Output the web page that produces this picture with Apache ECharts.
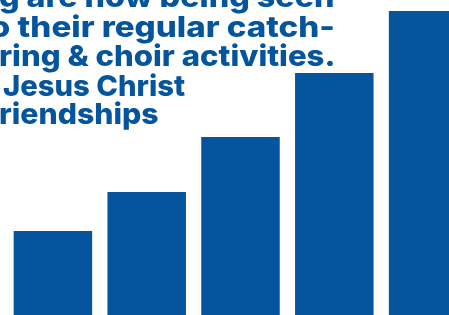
<!DOCTYPE html>
<html><head><meta charset="utf-8">
<script src="https://cdn.jsdelivr.net/npm/echarts@6/dist/echarts.min.js"></script>
<style>html,body{margin:0;padding:0;background:#fff}#c{width:449px;height:315px}</style>
</head><body><div id="c"></div>
<script>
const categories = ['A', 'B', 'C', 'D', 'E'];
const values = [84, 123, 178, 242, 304];
const textLines = ['g are now being seen', 'o their regular catch-', 'ring & choir activities.', 'Jesus Christ', 'riendships'];

const BLUE = '#04559d';
const FONT = '800 29px Inter';
// [inkLeft, inkRight, baseline]
const lineBoxes = [[0, 333, 6], [-9, 333, 36], [0, 333, 65], [3, 185, 95], [0, 158, 123]];
const BASE_SHIFT = 7;

const cv = document.createElement('canvas').getContext('2d');
cv.font = FONT;
const graphics = textLines.map((t, i) => {
  const m = cv.measureText(t);
  const inkW = m.actualBoundingBoxLeft + m.actualBoundingBoxRight;
  const [l, r, b] = lineBoxes[i];
  const s = (r - l) / inkW;
  return {
    type: 'text', x: l + m.actualBoundingBoxLeft * s, y: b + BASE_SHIFT, scaleX: s,
    style: { text: t, font: FONT, fill: BLUE, align: 'left', verticalAlign: 'bottom', lineHeight: 29 }
  };
});

const chart = echarts.init(document.getElementById('c'), null, { renderer: 'canvas' });
chart.setOption({
  animation: false,
  grid: { left: 6, right: -26, top: 0, bottom: 0, outerBoundsMode: 'none' },
  xAxis: { type: 'category', data: categories, show: false },
  yAxis: { type: 'value', min: 0, max: 315, show: false },
  series: [{ type: 'bar', data: values, barWidth: 78.5, itemStyle: { color: BLUE } }],
  graphic: graphics
});
</script></body></html>
